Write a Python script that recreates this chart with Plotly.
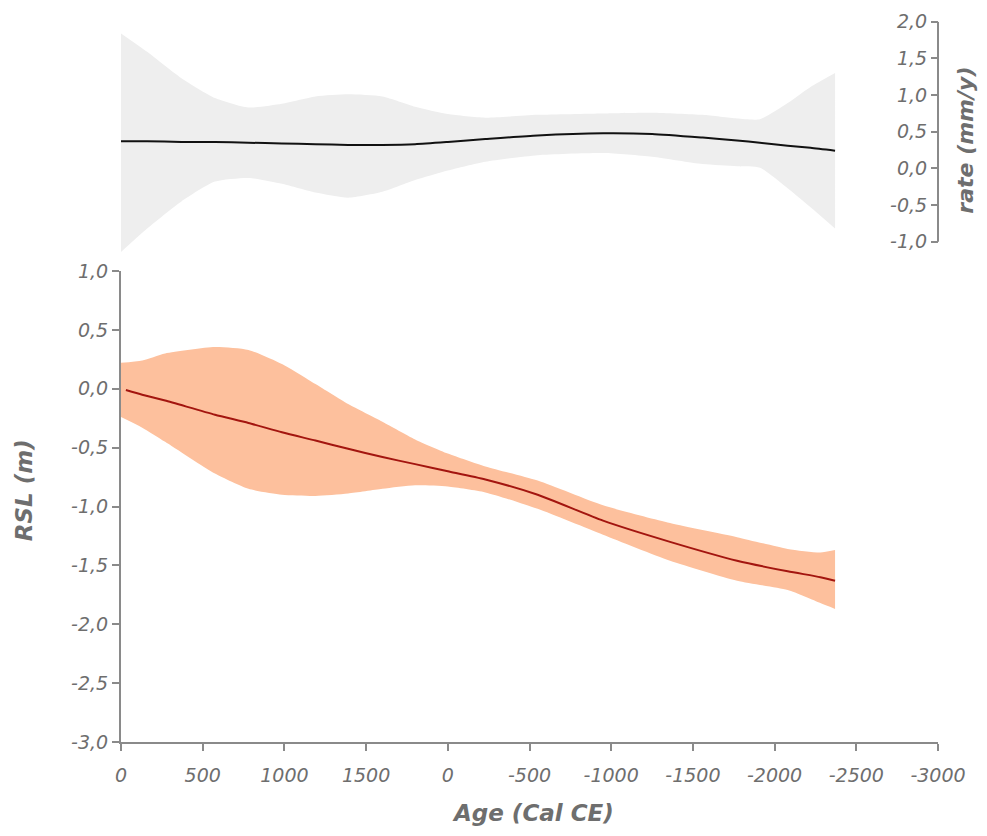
import plotly.graph_objects as go

# ---- data (age axis expressed as years along the plotted axis, 0..5000) ----
x_rate = [0, 160, 370, 575, 780, 985, 1190, 1390, 1600, 1800, 2000, 2230, 2550, 2950, 3250, 3560, 3770, 3910, 4080, 4220, 4370]
rate_mid = [0.37, 0.37, 0.36, 0.36, 0.35, 0.34, 0.33, 0.32, 0.32, 0.33, 0.36, 0.40, 0.45, 0.48, 0.47, 0.42, 0.38, 0.35, 0.31, 0.28, 0.24]
rate_hi = [1.84, 1.59, 1.23, 0.96, 0.83, 0.88, 0.98, 1.01, 0.98, 0.84, 0.74, 0.69, 0.73, 0.75, 0.76, 0.73, 0.68, 0.67, 0.89, 1.11, 1.30]
rate_lo = [-1.14, -0.82, -0.45, -0.18, -0.13, -0.21, -0.33, -0.40, -0.32, -0.16, -0.03, 0.09, 0.18, 0.21, 0.16, 0.06, 0.03, 0.01, -0.27, -0.53, -0.82]

x_rsl = [0, 130, 270, 575, 780, 985, 1190, 1390, 1600, 1800, 2000, 2230, 2550, 2950, 3360, 3770, 4080, 4280, 4370]
rsl_hi = [0.22, 0.24, 0.30, 0.355, 0.33, 0.21, 0.04, -0.13, -0.28, -0.43, -0.55, -0.66, -0.78, -0.99, -1.14, -1.26, -1.36, -1.39, -1.37]
rsl_lo = [-0.24, -0.33, -0.45, -0.72, -0.85, -0.90, -0.91, -0.89, -0.85, -0.82, -0.83, -0.88, -1.02, -1.24, -1.46, -1.63, -1.71, -1.82, -1.87]
x_rsl_mid = [30, 130, 270, 575, 780, 985, 1190, 1390, 1600, 1800, 2000, 2230, 2550, 2950, 3360, 3770, 4080, 4280, 4370]
rsl_mid = [-0.01, -0.05, -0.10, -0.22, -0.29, -0.37, -0.44, -0.51, -0.58, -0.64, -0.70, -0.77, -0.90, -1.12, -1.30, -1.46, -1.55, -1.60, -1.63]

x_tickvals = [0, 500, 1000, 1500, 2000, 2500, 3000, 3500, 4000, 4500, 5000]
x_ticktext = ["0", "500", "1000", "1500", "0", "-500", "-1000", "-1500", "-2000", "-2500", "-3000"]
rsl_tickvals = [1.0, 0.5, 0.0, -0.5, -1.0, -1.5, -2.0, -2.5, -3.0]
rsl_ticktext = ["1,0", "0,5", "0,0", "-0,5", "-1,0", "-1,5", "-2,0", "-2,5", "-3,0"]
rate_tickvals = [2.0, 1.5, 1.0, 0.5, 0.0, -0.5, -1.0]
rate_ticktext = ["2,0", "1,5", "1,0", "0,5", "0,0", "-0,5", "-1,0"]

FONT = "DejaVu Sans, Liberation Sans, Arial, sans-serif"
AX = "#8a8a8a"
TXT = "#6e6e6e"

fig = go.Figure()

SM = 0.6
# bottom RSL band
fig.add_trace(go.Scatter(x=x_rsl, y=rsl_hi, mode="lines", line=dict(width=0, shape="spline", smoothing=SM),
                         hoverinfo="skip", showlegend=False, xaxis="x", yaxis="y"))
fig.add_trace(go.Scatter(x=x_rsl, y=rsl_lo, mode="lines", line=dict(width=0, shape="spline", smoothing=SM),
                         fill="tonexty", fillcolor="#FDC09D", hoverinfo="skip", showlegend=False, xaxis="x", yaxis="y"))
fig.add_trace(go.Scatter(x=x_rsl_mid, y=rsl_mid, mode="lines", line=dict(width=2, color="#A3150F", shape="spline", smoothing=SM),
                         showlegend=False, xaxis="x", yaxis="y"))

# top rate band
fig.add_trace(go.Scatter(x=x_rate, y=rate_hi, mode="lines", line=dict(width=0, shape="spline", smoothing=SM),
                         hoverinfo="skip", showlegend=False, xaxis="x2", yaxis="y2"))
fig.add_trace(go.Scatter(x=x_rate, y=rate_lo, mode="lines", line=dict(width=0, shape="spline", smoothing=SM),
                         fill="tonexty", fillcolor="#EEEEEE", hoverinfo="skip", showlegend=False, xaxis="x2", yaxis="y2"))
fig.add_trace(go.Scatter(x=x_rate, y=rate_mid, mode="lines", line=dict(width=2, color="#111111", shape="spline", smoothing=SM),
                         showlegend=False, xaxis="x2", yaxis="y2"))

tickfont = dict(family=FONT, size=19, color=TXT, style="italic")
titlefont = dict(family=FONT, size=23, color=TXT, weight="bold", style="italic")

fig.update_layout(
    width=971, height=820,
    margin=dict(l=113, r=41, t=2, b=86, autoexpand=False),
    paper_bgcolor="white", plot_bgcolor="white",
    font=dict(family=FONT, color=TXT),
    xaxis=dict(domain=[0, 1], range=[0, 5000], tickvals=x_tickvals, ticktext=x_ticktext,
               showline=True, linecolor=AX, linewidth=2, ticks="outside", ticklen=7, tickwidth=2,
               tickcolor=AX, tickfont=tickfont, ticklabelstandoff=8,
               showgrid=False, zeroline=False, anchor="y", automargin=False),
    yaxis=dict(domain=[0, 0.6434], range=[-3, 1], tickvals=rsl_tickvals, ticktext=rsl_ticktext,
               showline=True, linecolor=AX, linewidth=2, ticks="outside", ticklen=7, tickwidth=2,
               tickcolor=AX, tickfont=tickfont, showgrid=False, zeroline=False, anchor="x", automargin=False),
    xaxis2=dict(domain=[0, 1], range=[0, 5000], visible=False, anchor="y2", matches="x", automargin=False),
    yaxis2=dict(domain=[0.6654, 0.984], range=[-1.18, 2.0], tickvals=rate_tickvals, ticktext=rate_ticktext,
                anchor="free", position=1.0, side="left", automargin=False,
                showline=False, ticks="outside", ticklen=7, tickwidth=2,
                tickcolor=AX, tickfont=tickfont, showgrid=False, zeroline=False),
    shapes=[dict(type="line", xref="paper", yref="y2", x0=1, x1=1, y0=-1.0, y1=2.0,
                 line=dict(color=AX, width=2))],
    annotations=[
        dict(text="Age (Cal CE)", xref="paper", yref="paper", x=0.504, y=-0.097, showarrow=False,
             xanchor="center", yanchor="middle", font=titlefont),
        dict(text="RSL (m)", xref="paper", yref="paper", x=-0.1187, y=0.344, showarrow=False,
             xanchor="center", yanchor="middle", textangle=-90, font=titlefont),
        dict(text="rate (mm/y)", xref="paper", yref="paper", x=1.0335, y=0.822, showarrow=False,
             xanchor="center", yanchor="middle", textangle=-90,
             font=dict(family=FONT, size=22, color=TXT, weight="bold", style="italic")),
    ],
)

fig.write_html("out.html")
